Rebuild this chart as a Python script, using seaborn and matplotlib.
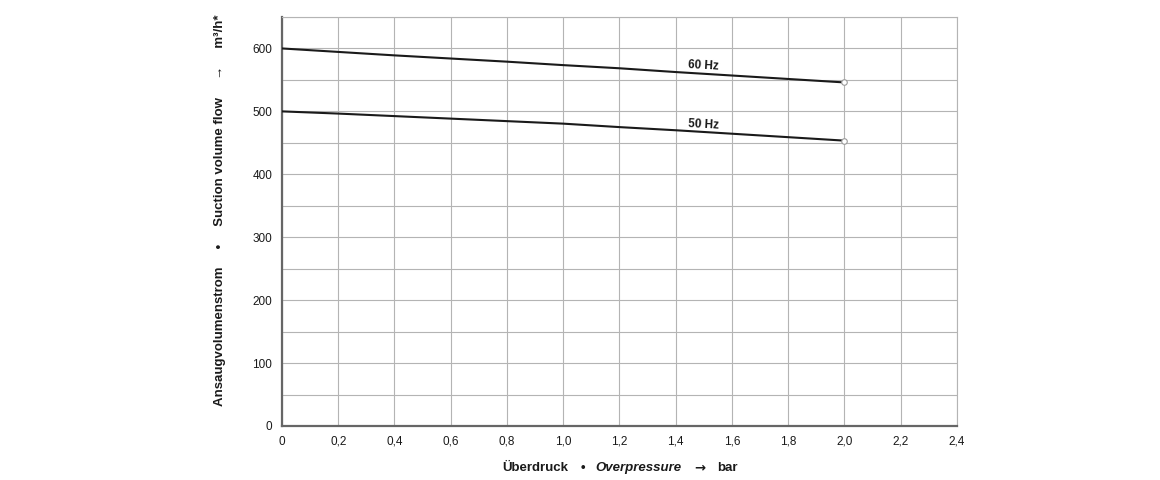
import numpy as np
import pandas as pd
import matplotlib
matplotlib.use("Agg")
import matplotlib.pyplot as plt
import seaborn as sns

# Data
pressure = [0.0, 0.2, 0.4, 0.6, 0.8, 1.0, 1.2, 1.4, 1.6, 1.8, 2.0]
flow_60hz = [600, 594.5, 589, 584, 579, 573.5, 568.5, 562.5, 557, 551.5, 546]
flow_50hz = [500, 496.5, 492.5, 488.5, 484.5, 480.5, 475, 470, 464.5, 459, 453.5]
series_labels = ["60 Hz", "50 Hz"]
label_pos = [(1.50, 573), (1.50, 479)]

x_ticks = [0, 0.2, 0.4, 0.6, 0.8, 1.0, 1.2, 1.4, 1.6, 1.8, 2.0, 2.2, 2.4]
y_ticks = [0, 100, 200, 300, 400, 500, 600]

df = pd.DataFrame({
    "pressure": pressure * 2,
    "flow": flow_60hz + flow_50hz,
    "freq": [series_labels[0]] * len(pressure) + [series_labels[1]] * len(pressure),
})
ends = df.groupby("freq", sort=False).tail(1)

sns.set_style("white")
plt.rcParams["font.family"] = ["Liberation Sans", "DejaVu Sans"]

fig = plt.figure(figsize=(11.6, 4.8), dpi=100)
ax = fig.add_axes([0.2431, 0.1125, 0.8250 - 0.2431, 0.9646 - 0.1125])

grid_col = "#b4b4b4"
ax.set_xlim(0, 2.4)
ax.set_ylim(0, 650)
ax.set_xticks(x_ticks)
ax.set_xticks(np.arange(0, 2.41, 0.2), minor=True)
ax.set_yticks(y_ticks)
ax.set_yticks(np.arange(0, 651, 50), minor=True)
ax.grid(which="both", color=grid_col, lw=0.8)
ax.set_axisbelow(True)

sns.lineplot(data=df, x="pressure", y="flow", hue="freq", palette=["#1a1a1a", "#1a1a1a"],
             lw=1.5, legend=False, ax=ax, zorder=3)
sns.scatterplot(data=ends, x="pressure", y="flow", s=16, facecolor="white",
                edgecolor="#999999", linewidth=0.8, ax=ax, zorder=4, legend=False)

for lab, (lx, ly) in zip(series_labels, label_pos):
    ax.text(lx, ly, lab, fontsize=8.5, fontweight="bold", ha="center", va="center",
            rotation=-3, color="#1a1a1a")

ax.set_xticklabels(["0" if t == 0 else f"{t:.1f}".replace(".", ",") for t in x_ticks])
ax.set_yticklabels([str(t) for t in y_ticks])
ax.tick_params(which="major", length=4, width=0.8, color="#555555", labelsize=8.5,
               labelcolor="#1a1a1a", pad=3)
ax.tick_params(which="minor", length=0)
ax.set_xlabel("")
ax.set_ylabel("")

for s in ["left", "bottom"]:
    ax.spines[s].set_color("#666666")
    ax.spines[s].set_linewidth(1.6)
for s in ["top", "right"]:
    ax.spines[s].set_color(grid_col)
    ax.spines[s].set_linewidth(0.8)

# x axis label, pieces in mixed styles on one baseline
base_y = 1 - 471 / 480
common = dict(fontsize=9.5, fontweight="bold", color="#1a1a1a", va="baseline", ha="center")
fig.text(535 / 1160, base_y, "Überdruck", **common)
fig.text(583 / 1160, base_y, "•", **common)
fig.text(638 / 1160, base_y, "Overpressure", fontstyle="italic", **common)
fig.text(700 / 1160, base_y, "→", family="DejaVu Sans", **common)
fig.text(727 / 1160, base_y, "bar", **common)

fig.text(220 / 1160, 1 - 210 / 480,
         "Ansaugvolumenstrom     •     Suction volume flow     →     m³/h*",
         rotation=90, ha="center", va="center", fontsize=9.5, fontweight="bold", color="#1a1a1a")

fig.savefig("out.png", dpi=100, facecolor="white")
